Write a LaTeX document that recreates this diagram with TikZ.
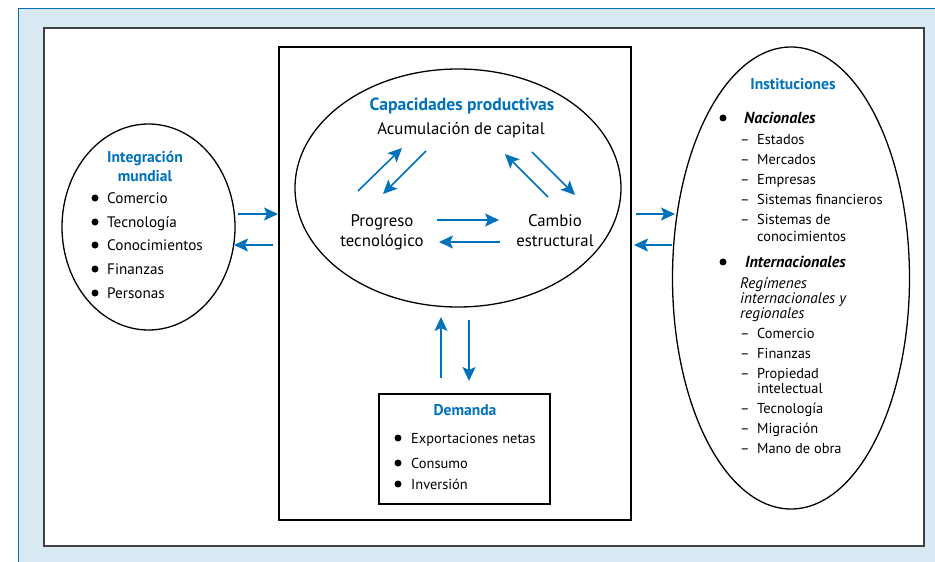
\documentclass[tikz,border=0pt]{standalone}
\usepackage{fontspec}
\setmainfont{PT Sans}
\usetikzlibrary{arrows.meta,shapes.geometric}
\definecolor{ublue}{RGB}{0,114,188}
\definecolor{bgblue}{RGB}{217,233,243}
\begin{document}
\begin{tikzpicture}[x=1pt,y=-1pt,
  txt/.style={anchor=base west,inner sep=0pt,font=\fontsize{14.4}{16}\selectfont},
  ltxt/.style={anchor=base west,inner sep=0pt,font=\fontsize{15.2}{16}\selectfont},
  ctxt/.style={anchor=base,inner sep=0pt,font=\fontsize{16.8}{18}\selectfont},
  ttl/.style={anchor=base,inner sep=0pt,text=ublue,font=\bfseries\fontsize{15.6}{17}\selectfont},
  bttl/.style={anchor=base,inner sep=0pt,text=ublue,font=\bfseries\fontsize{17.6}{19}\selectfont},
  bit/.style={anchor=base west,inner sep=0pt,font=\bfseries\itshape\fontsize{16}{18}\selectfont},
  itx/.style={anchor=base west,inner sep=0pt,font=\itshape\fontsize{15.3}{17}\selectfont},
  bul/.style={circle,fill=black,inner sep=0pt,minimum size=7pt},
  oval/.style={ellipse,draw=black,line width=1.3pt,inner sep=0pt},
  flow/.style={draw=ublue,line width=1.6pt,-{Stealth[length=14pt,width=13pt,inset=3pt]}}]
\useasboundingbox (0,0) rectangle (935,562);
% backgrounds
\fill[bgblue] (18,8) rectangle (940,570);
\draw[ublue,line width=1pt] (18,570) -- (18,8) -- (940,8);
\node[draw=black!75,fill=white,line width=1.2pt,inner sep=0pt,minimum width=880pt,minimum height=518pt] (frame) at (484,287) {};
\node[draw=black,line width=1.5pt,inner sep=0pt,minimum width=352pt,minimum height=473pt] (core) at (455,283.5) {};
% ellipses
\node[oval,minimum width=326pt,minimum height=238pt] (cap) at (458,188) {};
\node[oval,minimum width=173pt,minimum height=206pt] (glob) at (148.5,227) {};
\node[oval,minimum width=237pt,minimum height=462pt] (inst) at (791,278) {};
\node[draw=black,line width=1.5pt,inner sep=0pt,minimum width=171pt,minimum height=110pt] (dem) at (464.5,449) {};
% central texts
\node[bttl] (capt) at (462,110) {Capacidades productivas};
\node[ctxt] (acum) at (461,134) {Acumulación de capital};
\node[ctxt] (prog1) at (382,226) {Progreso};
\node[ctxt] (prog2) at (382,246) {tecnológico};
\node[ctxt] (camb1) at (555,226) {Cambio};
\node[ctxt] (camb2) at (555,246) {estructural};
% arrows inside
\coordinate (a1s) at (358,191); \coordinate (a1e) at (402,148);
\coordinate (a2s) at (426,151); \coordinate (a2e) at (383,194);
\coordinate (a3s) at (548,197); \coordinate (a3e) at (505,154);
\coordinate (a4s) at (532,152); \coordinate (a4e) at (575,195);
\coordinate (a5s) at (437,220); \coordinate (a5e) at (499,220);
\coordinate (a6s) at (500,242); \coordinate (a6e) at (439,242);
\draw[flow] (a1s) -- (a1e);
\draw[flow] (a2s) -- (a2e);
\draw[flow] (a3s) -- (a3e);
\draw[flow] (a4s) -- (a4e);
\draw[flow] (a5s) -- (a5e);
\draw[flow] (a6s) -- (a6e);
% side arrows
\coordinate (l1s) at (238,214); \coordinate (l1e) at (278,214);
\coordinate (l2s) at (273,245); \coordinate (l2e) at (234,245);
\coordinate (r1s) at (636,214); \coordinate (r1e) at (675,214);
\coordinate (r2s) at (672,245); \coordinate (r2e) at (634,245);
\coordinate (v1s) at (441,378); \coordinate (v1e) at (441,317);
\coordinate (v2s) at (469,320); \coordinate (v2e) at (469,381);
\draw[flow] (l1s) -- (l1e);
\draw[flow] (l2s) -- (l2e);
\draw[flow] (r1s) -- (r1e);
\draw[flow] (r2s) -- (r2e);
\draw[flow] (v1s) -- (v1e);
\draw[flow] (v2s) -- (v2e);
% left ellipse
\node[ttl] (gt1) at (145,162) {Integración};
\node[ttl] (gt2) at (145,181) {mundial};
\foreach \t/\y [count=\i] in {Comercio/198,Tecnología/222,Conocimientos/245,Finanzas/269,Personas/293}{
  \node[bul] (gb\i) at (95,\y) {};
  \node[ltxt] (gi\i) at (107,\y+5) {\t};
}
% demand
\node[ttl] (dt) at (465,415) {Demanda};
\foreach \t/\y [count=\i] in {Exportaciones netas/438,Consumo/463,Inversión/484}{
  \node[bul] (db\i) at (398,\y) {};
  \node[txt] (di\i) at (411,\y+5) {\t};
}
% institutions
\node[ttl] (it) at (793,89) {Instituciones};
\node[bul] (ib1) at (723,118) {};
\node[bit] (nac) at (744,123) {Nacionales};
\foreach \t/\y [count=\i] in {Estados/139,Mercados/159,Empresas/179,Sistemas financieros/199,Sistemas de/219}{
  \node[txt] (nd\i) at (740,\y+5) {–};
  \node[txt] (ni\i) at (757,\y+5) {\t};
}
\node[txt] (ni6) at (757,241) {conocimientos};
\node[bul] (ib2) at (723,262) {};
\node[bit] (intl) at (745,267) {Internacionales};
\node[itx] (reg1) at (740,288) {Regímenes};
\node[itx] (reg2) at (740,303) {internacionales y};
\node[itx] (reg3) at (740,318) {regionales};
\foreach \t/\y [count=\i] in {Comercio/333,Finanzas/353,Propiedad/373,Tecnología/408,Migración/428,Mano de obra/448}{
  \node[txt] (md\i) at (740,\y+5) {–};
  \node[txt] (mi\i) at (757,\y+5) {\t};
}
\node[txt] (mi7) at (757,393) {intelectual};
\end{tikzpicture}
\end{document}
